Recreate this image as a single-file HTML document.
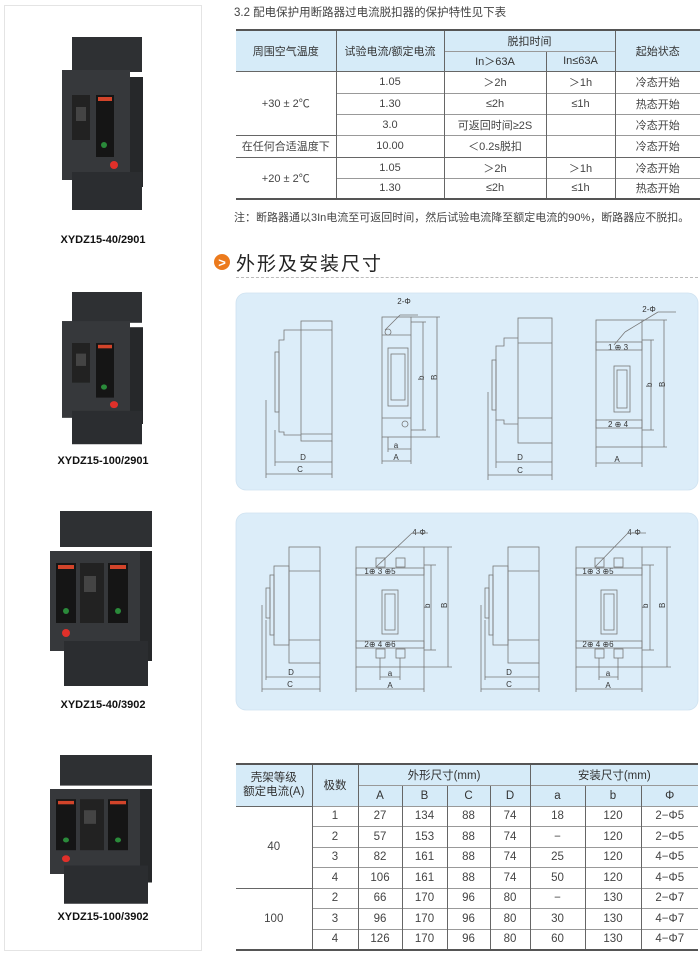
<!DOCTYPE html>
<html><head><meta charset="utf-8"><style>
*{margin:0;padding:0;box-sizing:border-box}
body{width:700px;height:960px;background:#fff;position:relative;overflow:hidden;font-family:"Liberation Sans","Noto Sans CJK SC",sans-serif;color:#333}
.abs{position:absolute}
table{border-collapse:collapse;position:absolute;font-size:11px;color:#444}
td{text-align:center;border-left:1px solid #666;border-top:1px solid #999;padding:0;white-space:nowrap}
td:first-child{border-left:none}
.h{background:#d6ebf8;color:#333}
.lbl{position:absolute;font-weight:bold;font-size:11px;color:#111;text-align:center;width:200px;left:3px}
</style></head><body>
<div class="abs" style="left:4px;top:5px;width:198px;height:946px;border:1px solid #e4e4e4"></div>

<svg class="abs" style="left:0;top:0" width="230" height="960">
<defs>
<g id="p2">
 <rect x="10" y="0" width="70" height="35" fill="#2e3033"/>
 <rect x="0" y="33" width="68" height="110" fill="#36383b"/>
 <rect x="68" y="40" width="13" height="110" fill="#26282a"/>
 <rect x="10" y="135" width="70" height="38" fill="#2b2d30"/>
 <rect x="10" y="58" width="18" height="45" fill="#222"/>
 <rect x="14" y="70" width="10" height="14" fill="#444"/>
 <rect x="34" y="58" width="18" height="62" fill="#151515"/>
 <rect x="36" y="60" width="14" height="4" fill="#d2442a"/>
 <circle cx="42" cy="108" r="3" fill="#2a8a3a"/>
 <circle cx="52" cy="128" r="4" fill="#e0302a"/>
</g>
<g id="p3">
 <rect x="10" y="0" width="92" height="36" fill="#2e3033"/>
 <rect x="0" y="40" width="90" height="100" fill="#36383b"/>
 <rect x="90" y="40" width="12" height="110" fill="#26282a"/>
 <rect x="14" y="130" width="84" height="45" fill="#2b2d30"/>
 <rect x="6" y="52" width="20" height="60" fill="#151515"/>
 <rect x="58" y="52" width="20" height="60" fill="#151515"/>
 <rect x="8" y="54" width="16" height="4" fill="#d2442a"/>
 <rect x="60" y="54" width="16" height="4" fill="#d2442a"/>
 <rect x="30" y="52" width="24" height="60" fill="#222"/>
 <rect x="34" y="65" width="12" height="16" fill="#444"/>
 <circle cx="16" cy="100" r="3" fill="#2a8a3a"/><circle cx="68" cy="100" r="3" fill="#2a8a3a"/>
 <circle cx="16" cy="122" r="4" fill="#e0302a"/>
</g>
</defs>
<use href="#p2" x="62" y="37"/>
<use href="#p2" transform="translate(62,292) scale(1,0.88)"/>
<use href="#p3" x="50" y="511"/>
<use href="#p3" transform="translate(50,755) scale(1,0.85)"/>
<circle cx="222" cy="262" r="8" fill="#ec7a1c"/>
<text x="222" y="267" font-size="13" font-weight="bold" fill="#fff" text-anchor="middle" font-family="Liberation Sans">&gt;</text>
</svg>
<div class="lbl" style="top:234px">XYDZ15-40/2901</div>
<div class="lbl" style="top:455px">XYDZ15-100/2901</div>
<div class="lbl" style="top:699px">XYDZ15-40/3902</div>
<div class="lbl" style="top:911px">XYDZ15-100/3902</div>

<div class="abs" style="left:234px;top:4px;font-size:11.5px;color:#444">3.2 配电保护用断路器过电流脱扣器的保护特性见下表</div>

<table style="left:236px;top:29px;width:464px;border-top:2px solid #555;border-bottom:2px solid #555">
<colgroup><col style="width:100px"><col style="width:108px"><col style="width:102px"><col style="width:69px"><col style="width:85px"></colgroup>
<tr style="height:21px"><td class="h" rowspan="2" style="border-top:none">周围空气温度</td><td class="h" rowspan="2" style="border-top:none">试验电流/额定电流</td><td class="h" colspan="2" style="border-top:none">脱扣时间</td><td class="h" rowspan="2" style="border-top:none">起始状态</td></tr>
<tr style="height:20px"><td class="h" style="border-left:1px solid #666">In＞63A</td><td class="h">In≤63A</td></tr>
<tr style="height:22px"><td rowspan="3" style="border-top:1px solid #666">+30 ± 2℃</td><td style="border-top:1px solid #666">1.05</td><td style="border-top:1px solid #666">＞2h</td><td style="border-top:1px solid #666">＞1h</td><td style="border-top:1px solid #666">冷态开始</td></tr>
<tr style="height:21px"><td style="border-left:1px solid #666">1.30</td><td>≤2h</td><td>≤1h</td><td>热态开始</td></tr>
<tr style="height:21px"><td style="border-left:1px solid #666">3.0</td><td>可返回时间≥2S</td><td></td><td>冷态开始</td></tr>
<tr style="height:22px"><td style="border-top:1px solid #666">在任何合适温度下</td><td>10.00</td><td>＜0.2s脱扣</td><td></td><td>冷态开始</td></tr>
<tr style="height:21px"><td rowspan="2" style="border-top:1px solid #666">+20 ± 2℃</td><td style="border-top:1px solid #666">1.05</td><td style="border-top:1px solid #666">＞2h</td><td style="border-top:1px solid #666">＞1h</td><td style="border-top:1px solid #666">冷态开始</td></tr>
<tr style="height:21px"><td style="border-left:1px solid #666">1.30</td><td>≤2h</td><td>≤1h</td><td>热态开始</td></tr>
</table>
<div class="abs" style="left:234px;top:209px;font-size:11px;color:#444;white-space:nowrap">注：断路器通以3In电流至可返回时间，然后试验电流降至额定电流的90%，断路器应不脱扣。</div>

<div class="abs" style="left:236px;top:249px;font-size:19px;color:#222;letter-spacing:2px">外形及安装尺寸</div>
<div class="abs" style="left:236px;top:277px;width:462px;border-top:1px dashed #bbb"></div>

<svg class="abs" style="left:0;top:0" width="700" height="960" fill="none" stroke="#777" stroke-width="0.8" font-family="Liberation Sans" font-size="8">
<rect x="236" y="293" width="462" height="197" rx="10" fill="#dcedf9" stroke="#cfe2f0"/>
<rect x="236" y="513" width="462" height="197" rx="10" fill="#dcedf9" stroke="#cfe2f0"/>
<g fill="#333" stroke="none" text-anchor="middle">
<text x="303" y="460">D</text><text x="300" y="472">C</text><text x="396" y="448">a</text><text x="396" y="460">A</text>
<text x="520" y="460">D</text><text x="520" y="473">C</text><text x="617" y="462">A</text>
<text x="404" y="304">2-Φ</text><text x="649" y="312">2-Φ</text>
<text x="618" y="350">1 ⊕ 3</text><text x="618" y="427">2 ⊕ 4</text>
<text x="291" y="675">D</text><text x="290" y="687">C</text><text x="390" y="676">a</text><text x="390" y="688">A</text>
<text x="509" y="675">D</text><text x="509" y="687">C</text><text x="608" y="676">a</text><text x="608" y="688">A</text>
<text x="419" y="535">4-Φ</text><text x="634" y="535">4-Φ</text>
<text x="380" y="574">1⊕ 3 ⊕5</text><text x="380" y="647">2⊕ 4 ⊕6</text>
<text x="598" y="574">1⊕ 3 ⊕5</text><text x="598" y="647">2⊕ 4 ⊕6</text>
</g>
<g fill="#333" stroke="none" font-size="8">
<text transform="translate(424,380) rotate(-90)">b</text><text transform="translate(437,380) rotate(-90)">B</text>
<text transform="translate(652,387) rotate(-90)">b</text><text transform="translate(665,387) rotate(-90)">B</text>
<text transform="translate(430,608) rotate(-90)">b</text><text transform="translate(447,608) rotate(-90)">B</text>
<text transform="translate(648,608) rotate(-90)">b</text><text transform="translate(665,608) rotate(-90)">B</text>
</g>
<rect x="301" y="321" width="31" height="120"/><line x1="301" y1="330" x2="332" y2="330"/><line x1="301" y1="434" x2="332" y2="434"/>
<path d="M301 330 H284 V340 H279 V432 H284 V435 H301"/><rect x="275" y="352" width="4" height="60"/>
<line x1="266" y1="400" x2="266" y2="478"/><line x1="275" y1="430" x2="275" y2="466"/><line x1="332" y1="441" x2="332" y2="478"/>
<line x1="275" y1="462" x2="332" y2="462"/><line x1="266" y1="474" x2="332" y2="474"/>
<rect x="382" y="317" width="29" height="120"/><line x1="382" y1="335" x2="411" y2="335"/><line x1="382" y1="418" x2="411" y2="418"/>
<rect x="388" y="348" width="20" height="58"/><rect x="391" y="354" width="14" height="46"/>
<circle cx="388" cy="332" r="3"/><circle cx="405" cy="424" r="3"/>
<line x1="385" y1="330" x2="400" y2="315"/><line x1="400" y1="315" x2="418" y2="315"/>
<line x1="411" y1="322" x2="426" y2="322"/><line x1="411" y1="430" x2="426" y2="430"/><line x1="423" y1="322" x2="423" y2="430"/>
<line x1="411" y1="317" x2="440" y2="317"/><line x1="411" y1="437" x2="440" y2="437"/><line x1="437" y1="317" x2="437" y2="437"/>
<line x1="388" y1="437" x2="388" y2="452"/><line x1="382" y1="437" x2="382" y2="464"/><line x1="411" y1="437" x2="411" y2="464"/>
<line x1="388" y1="449" x2="411" y2="449"/><line x1="382" y1="461" x2="411" y2="461"/>
<rect x="518" y="318" width="34" height="125"/><line x1="518" y1="343" x2="552" y2="343"/><line x1="518" y1="418" x2="552" y2="418"/>
<path d="M518 338 H504 V346 H496 V420 H504 V424 H518"/><rect x="492" y="360" width="4" height="50"/>
<line x1="488" y1="392" x2="488" y2="480"/><line x1="496" y1="420" x2="496" y2="468"/><line x1="552" y1="443" x2="552" y2="480"/>
<line x1="496" y1="462" x2="552" y2="462"/><line x1="488" y1="475" x2="552" y2="475"/>
<rect x="596" y="320" width="46" height="127"/><rect x="596" y="342" width="46" height="8"/><rect x="596" y="420" width="46" height="8"/>
<rect x="614" y="366" width="16" height="46"/><rect x="617" y="370" width="10" height="38"/>
<line x1="614" y1="345" x2="625" y2="332"/><line x1="625" y1="332" x2="658" y2="312"/><line x1="658" y1="312" x2="676" y2="312"/>
<line x1="642" y1="340" x2="654" y2="340"/><line x1="642" y1="430" x2="654" y2="430"/><line x1="651" y1="340" x2="651" y2="430"/>
<line x1="642" y1="320" x2="667" y2="320"/><line x1="642" y1="447" x2="667" y2="447"/><line x1="664" y1="320" x2="664" y2="447"/>
<line x1="596" y1="447" x2="596" y2="467"/><line x1="642" y1="447" x2="642" y2="467"/><line x1="596" y1="463" x2="642" y2="463"/>
<rect x="289" y="547" width="31" height="116"/><line x1="289" y1="571" x2="320" y2="571"/><line x1="289" y1="640" x2="320" y2="640"/>
<rect x="274" y="566" width="15" height="79"/><rect x="270" y="575" width="4" height="60"/><rect x="266" y="588" width="4" height="30"/>
<line x1="262" y1="605" x2="262" y2="692"/><line x1="266" y1="620" x2="266" y2="680"/><line x1="320" y1="663" x2="320" y2="692"/>
<line x1="266" y1="677" x2="320" y2="677"/><line x1="262" y1="689" x2="320" y2="689"/>
<rect x="356" y="547" width="68" height="120"/><rect x="356" y="568" width="68" height="7"/><rect x="356" y="641" width="68" height="7"/>
<rect x="382" y="590" width="16" height="44"/><rect x="385" y="594" width="10" height="36"/>
<rect x="376" y="558" width="9" height="9"/><rect x="396" y="558" width="9" height="9"/><rect x="376" y="649" width="9" height="9"/><rect x="396" y="649" width="9" height="9"/>
<line x1="376" y1="567" x2="412" y2="533"/><line x1="412" y1="533" x2="428" y2="533"/>
<line x1="424" y1="565" x2="436" y2="565"/><line x1="424" y1="650" x2="436" y2="650"/><line x1="431" y1="565" x2="431" y2="650"/>
<line x1="424" y1="547" x2="452" y2="547"/><line x1="424" y1="667" x2="452" y2="667"/><line x1="448" y1="547" x2="448" y2="667"/>
<line x1="380" y1="658" x2="380" y2="680"/><line x1="400" y1="658" x2="400" y2="680"/><line x1="380" y1="677" x2="400" y2="677"/>
<line x1="356" y1="667" x2="356" y2="692"/><line x1="424" y1="667" x2="424" y2="692"/><line x1="356" y1="689" x2="424" y2="689"/>
<rect x="508" y="547" width="31" height="116"/><line x1="508" y1="571" x2="539" y2="571"/><line x1="508" y1="640" x2="539" y2="640"/>
<rect x="493" y="566" width="15" height="79"/><rect x="489" y="575" width="4" height="60"/><rect x="485" y="588" width="4" height="30"/>
<line x1="481" y1="605" x2="481" y2="692"/><line x1="485" y1="620" x2="485" y2="680"/><line x1="539" y1="663" x2="539" y2="692"/>
<line x1="485" y1="677" x2="539" y2="677"/><line x1="481" y1="689" x2="539" y2="689"/>
<rect x="576" y="547" width="66" height="120"/><rect x="576" y="568" width="66" height="7"/><rect x="576" y="641" width="66" height="7"/>
<rect x="601" y="590" width="16" height="44"/><rect x="604" y="594" width="10" height="36"/>
<rect x="595" y="558" width="9" height="9"/><rect x="614" y="558" width="9" height="9"/><rect x="595" y="649" width="9" height="9"/><rect x="614" y="649" width="9" height="9"/>
<line x1="595" y1="567" x2="628" y2="533"/><line x1="628" y1="533" x2="646" y2="533"/>
<line x1="642" y1="565" x2="654" y2="565"/><line x1="642" y1="650" x2="654" y2="650"/><line x1="650" y1="565" x2="650" y2="650"/>
<line x1="642" y1="547" x2="671" y2="547"/><line x1="642" y1="667" x2="671" y2="667"/><line x1="667" y1="547" x2="667" y2="667"/>
<line x1="599" y1="658" x2="599" y2="680"/><line x1="618" y1="658" x2="618" y2="680"/><line x1="599" y1="677" x2="618" y2="677"/>
<line x1="576" y1="667" x2="576" y2="692"/><line x1="642" y1="667" x2="642" y2="692"/><line x1="576" y1="689" x2="642" y2="689"/>
</svg>

<table style="left:236px;top:763px;width:462px;font-size:11.5px;border-top:2px solid #555;border-bottom:2px solid #555">
<colgroup><col style="width:76px"><col style="width:46px"><col style="width:44px"><col style="width:45px"><col style="width:43px"><col style="width:40px"><col style="width:55px"><col style="width:56px"><col style="width:57px"></colgroup>
<tr style="height:21px"><td class="h" rowspan="2" style="border-top:none;line-height:14px">壳架等级<br>额定电流(A)</td><td class="h" rowspan="2" style="border-top:none">极数</td><td class="h" colspan="4" style="border-top:none">外形尺寸(mm)</td><td class="h" colspan="3" style="border-top:none">安装尺寸(mm)</td></tr>
<tr style="height:21px"><td class="h" style="border-left:1px solid #666">A</td><td class="h">B</td><td class="h">C</td><td class="h">D</td><td class="h">a</td><td class="h">b</td><td class="h">Φ</td></tr>
<tr style="height:20.5px"><td rowspan="4" style="border-top:1px solid #666">40</td><td>1</td><td>27</td><td>134</td><td>88</td><td>74</td><td>18</td><td>120</td><td>2−Φ5</td></tr>
<tr style="height:20.5px"><td style="border-left:1px solid #666">2</td><td>57</td><td>153</td><td>88</td><td>74</td><td>−</td><td>120</td><td>2−Φ5</td></tr>
<tr style="height:20.5px"><td style="border-left:1px solid #666">3</td><td>82</td><td>161</td><td>88</td><td>74</td><td>25</td><td>120</td><td>4−Φ5</td></tr>
<tr style="height:20.5px"><td style="border-left:1px solid #666">4</td><td>106</td><td>161</td><td>88</td><td>74</td><td>50</td><td>120</td><td>4−Φ5</td></tr>
<tr style="height:20.5px"><td rowspan="3" style="border-top:1px solid #666">100</td><td>2</td><td>66</td><td>170</td><td>96</td><td>80</td><td>−</td><td>130</td><td>2−Φ7</td></tr>
<tr style="height:20.5px"><td style="border-left:1px solid #666">3</td><td>96</td><td>170</td><td>96</td><td>80</td><td>30</td><td>130</td><td>4−Φ7</td></tr>
<tr style="height:20.5px"><td style="border-left:1px solid #666">4</td><td>126</td><td>170</td><td>96</td><td>80</td><td>60</td><td>130</td><td>4−Φ7</td></tr>
</table>
</body></html>
